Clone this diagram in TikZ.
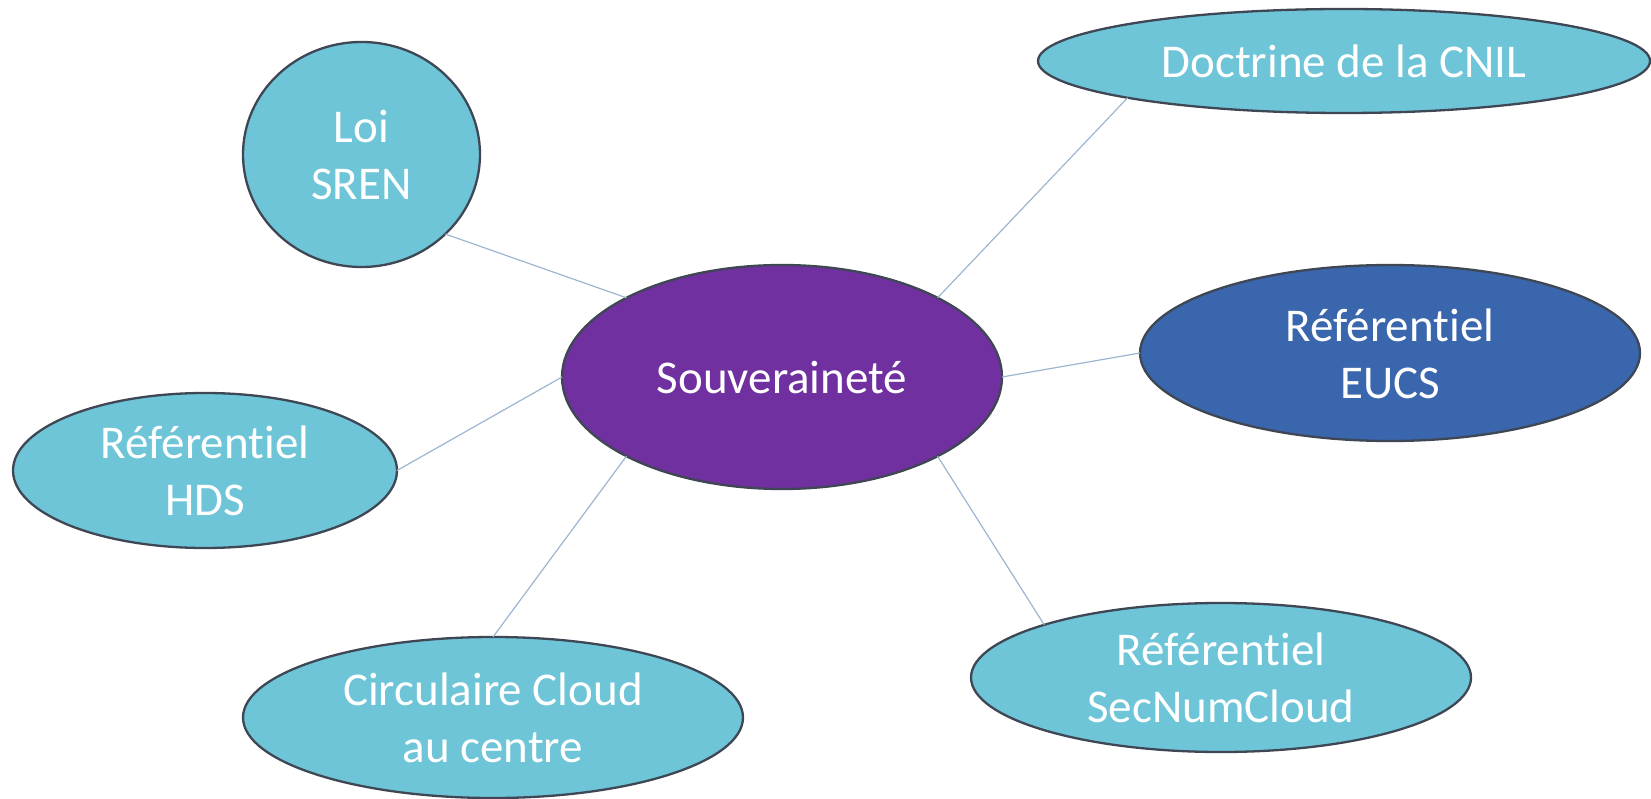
\documentclass[tikz,border=0pt]{standalone}
\usepackage{fontspec}
\setmainfont{Carlito}[Ligatures={TeX,NoCommon}]
\usetikzlibrary{shapes.geometric}
\definecolor{lightfill}{HTML}{6EC5D8}
\definecolor{purplefill}{HTML}{7030A0}
\definecolor{bluefill}{HTML}{3A66AE}
\definecolor{edgecol}{HTML}{3E4753}
\definecolor{linkcol}{HTML}{9DB5D1}
\newcommand{\mystrut}{\rule[-12pt]{0pt}{57pt}}
\begin{document}
\begin{tikzpicture}[x=1pt,y=-1pt,
  bubble/.style={ellipse, draw=edgecol, line width=2.3pt, fill=lightfill,
    inner sep=-15pt, outer sep=0pt, text=white, align=center,
    font=\fontsize{47}{57}\selectfont},
  link/.style={draw=linkcol, line width=1.2pt}]
\useasboundingbox (0,0) rectangle (1651,799);
\node[bubble, fill=purplefill, minimum width=440pt, minimum height=224pt] (souv) at (782,377) {\mystrut Souveraineté};
\node[bubble, minimum width=237pt, minimum height=225pt] (sren) at (361.5,154.5) {\mystrut Loi\\\mystrut SREN};
\node[bubble, minimum width=612pt, minimum height=104pt] (cnil) at (1344,61) {\mystrut Doctrine de la CNIL};
\node[bubble, fill=bluefill, minimum width=500pt, minimum height=176pt] (eucs) at (1390,353) {\mystrut Référentiel\\\mystrut EUCS};
\node[bubble, minimum width=384pt, minimum height=155pt] (hds) at (205,470.5) {\mystrut Référentiel\\\mystrut HDS};
\node[bubble, minimum width=500pt, minimum height=161pt] (circ) at (493,717.5) {\mystrut Circulaire Cloud\\\mystrut au centre};
\node[bubble, minimum width=500pt, minimum height=149pt] (snc) at (1221,677.5) {\mystrut Référentiel\\\mystrut SecNumCloud};
\draw[link] (sren.south east) -- (souv.north west);
\draw[link] (cnil.south west) -- (souv.north east);
\draw[link] (eucs.west) -- (souv.east);
\draw[link] (hds.east) -- (souv.west);
\draw[link] (circ.north) -- (souv.south west);
\draw[link] (snc.north west) -- (souv.south east);
\end{tikzpicture}
\end{document}
